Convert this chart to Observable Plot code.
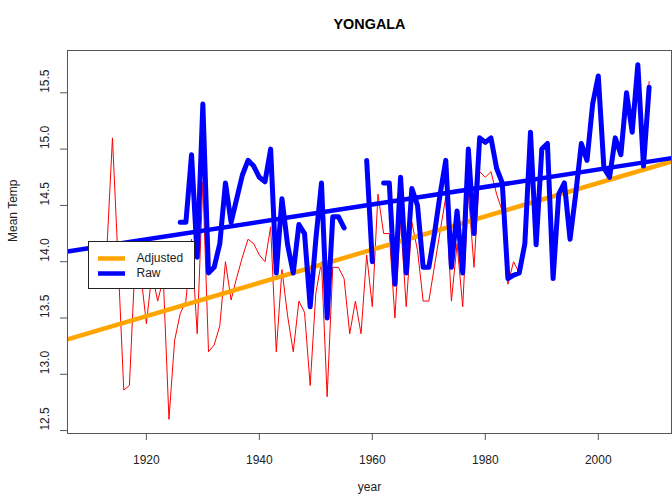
<!DOCTYPE html>
<html><head><meta charset="utf-8">
<script src="https://cdn.jsdelivr.net/npm/d3@7"></script>
<script src="https://cdn.jsdelivr.net/npm/@observablehq/plot@0.6"></script>
<style>
body{margin:0;background:#fff;font-family:"Liberation Sans",Arial,Helvetica,sans-serif;}
#wrap{position:relative;width:672px;height:502px;}
#legend{position:absolute;left:88px;top:241px;width:107px;height:48px;background:#fff;border:1px solid #222;box-sizing:border-box;}
</style></head>
<body><div id="wrap"><div id="legend"></div></div>
<script>
const years = d3.range(1910, 2010);
const adjusted = [
13.8,14.0,13.9,14.1,15.1,14.0,12.86,12.9,14.0,13.9,
13.45,13.9,13.65,13.85,12.6,13.3,13.54,13.65,14.2,13.36,
14.71,13.2,13.26,13.43,14.0,13.66,13.86,14.04,14.2,14.16,
14.06,14.0,14.31,13.2,13.93,13.52,13.2,13.65,13.55,12.9,
13.72,14.0,12.8,13.95,13.95,13.85,13.36,13.65,13.36,14.06,
13.6,14.6,14.25,14.25,13.5,14.37,13.6,14.35,14.1,13.65,
13.65,13.96,14.27,14.57,13.65,14.16,13.6,14.62,13.95,14.8,
14.75,14.8,14.6,14.45,13.8,14.0,13.9,14.16,15.15,14.15,
15.0,15.05,13.85,14.6,14.7,14.2,14.6,15.05,14.9,15.4,
15.65,14.83,14.75,15.1,14.95,15.5,15.15,15.75,14.85,15.6];
const raw = [
null,null,null,null,null,null,null,null,null,null,
null,null,null,null,null,null,14.35,14.35,14.95,14.04,
15.4,13.9,13.95,14.16,14.7,14.35,14.56,14.77,14.9,14.85,
14.75,14.71,15.0,13.9,14.56,14.15,13.9,14.33,14.25,13.6,
14.2,14.7,13.5,14.4,14.4,14.3,null,null,null,14.9,
14.0,null,14.7,14.7,13.8,14.75,13.9,14.65,14.5,13.95,
13.95,14.25,14.6,14.9,13.95,14.45,13.9,15.0,14.25,15.1,
15.06,15.1,14.83,14.7,13.85,13.88,13.9,14.16,15.15,14.15,
15.0,15.05,13.85,14.6,14.7,14.2,14.6,15.05,14.9,15.4,
15.65,14.83,14.75,15.1,14.95,15.5,15.15,15.75,14.85,15.55];
const trendYears = [1906.04, 2012.96];
const adjTrend = [13.31, 14.89];
const rawTrend = [14.09, 14.92];
const xTicks = [1920, 1940, 1960, 1980, 2000];
const yTicks = [12.5, 13, 13.5, 14, 14.5, 15, 15.5];
const seriesNames = ["Adjusted", "Raw"];
const seriesColors = ["#FFA500", "#0000FF"];

const adjData = years.map((y, i) => ({year: y, v: adjusted[i]}));
const rawData = years.map((y, i) => ({year: y, v: raw[i]}));
const adjT = trendYears.map((y, i) => ({year: y, v: adjTrend[i]}));
const rawT = trendYears.map((y, i) => ({year: y, v: rawTrend[i]}));
const fmt = d3.format(".1f");

const chart = Plot.plot({
  width: 672, height: 502,
  marginLeft: 67, marginRight: 1, marginTop: 50, marginBottom: 69,
  style: {fontFamily: '"Liberation Sans", Arial, Helvetica, sans-serif', fontSize: "12px", color: "#000", background: "#fff"},
  x: {domain: [1906.04, 2012.96], axis: null, label: null},
  y: {domain: [12.474, 15.876], axis: null, label: null},
  marks: [
    Plot.line(adjData, {x: "year", y: "v", stroke: "#FF0000", strokeWidth: 1}),
    Plot.line(adjT, {x: "year", y: "v", stroke: seriesColors[0], strokeWidth: 4.5, strokeLinecap: "butt"}),
    Plot.line(rawData, {x: "year", y: "v", stroke: seriesColors[1], strokeWidth: 5}),
    Plot.line(rawT, {x: "year", y: "v", stroke: seriesColors[1], strokeWidth: 4.5, strokeLinecap: "butt"}),
    Plot.axisX(xTicks, {tickSize: 7, tickFormat: () => "", stroke: "#555", label: null}),
    Plot.axisY(yTicks, {tickSize: 7, tickFormat: () => "", stroke: "#555", label: null}),
    Plot.text(xTicks, {x: d => d, text: d => String(d), frameAnchor: "bottom", dy: 30, fill: "#222", fontSize: 12}),
    Plot.text(yTicks, {y: d => d, text: d => fmt(d), frameAnchor: "left", dx: -22, rotate: -90, fill: "#222", fontSize: 12}),
    Plot.text(["year"], {text: d => d, frameAnchor: "bottom", dy: 57, fill: "#222", fontSize: 12}),
    Plot.text(["Mean Temp"], {text: d => d, frameAnchor: "left", dx: -54, rotate: -90, fill: "#222", fontSize: 12}),
    Plot.text(["YONGALA"], {text: d => d, frameAnchor: "top", dy: -32, fill: "#000", fontSize: 14.4, fontWeight: "bold"}),
    Plot.frame({stroke: "#555"})
  ]
});
document.getElementById("wrap").prepend(chart);

// legend
const lg = d3.select("#legend").append("svg").attr("width", 105).attr("height", 46)
  .style("font-family", '"Liberation Sans", Arial, sans-serif').style("font-size", "12px");
seriesNames.forEach((name, i) => {
  const cy = 16.5 + i * 15;
  lg.append("line").attr("x1", 9).attr("x2", 36).attr("y1", cy).attr("y2", cy)
    .attr("stroke", seriesColors[i]).attr("stroke-width", 4.5).attr("stroke-linecap", "butt");
  lg.append("text").attr("x", 47.5).attr("y", cy).attr("dominant-baseline", "middle")
    .attr("fill", "#222").text(name);
});
</script>
</body></html>
